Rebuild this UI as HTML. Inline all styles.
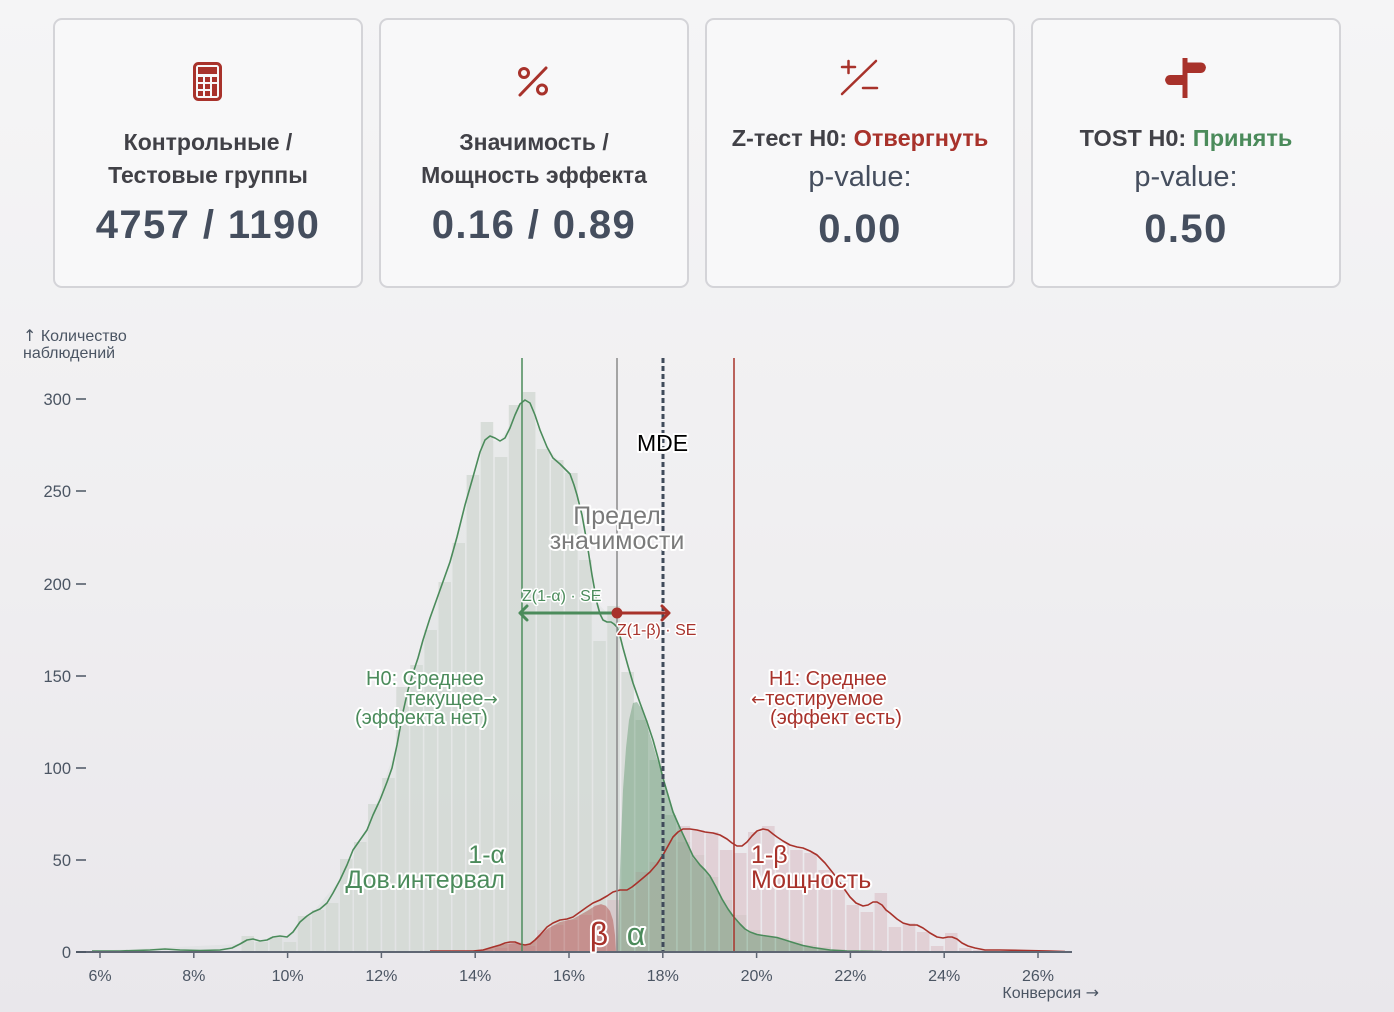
<!DOCTYPE html>
<html><head><meta charset="utf-8"><style>
html,body{margin:0;padding:0;}
body{width:1394px;height:1012px;overflow:hidden;background:linear-gradient(180deg,#f5f5f6 0%,#f0eff1 50%,#e9e7eb 100%);font-family:"Liberation Sans","DejaVu Sans",sans-serif;}
svg{position:absolute;left:0;top:0;}
.h{paint-order:stroke;stroke:#fff;stroke-width:4px;stroke-linejoin:round;}
.ar{font-family:"DejaVu Sans",sans-serif;}
</style></head><body>
<svg width="1394" height="1012" viewBox="0 0 1394 1012" xmlns="http://www.w3.org/2000/svg" font-family="Liberation Sans, DejaVu Sans, sans-serif">
<!-- cards -->
<g fill="#f8f8f9" stroke="#d4d4d8" stroke-width="2">
<rect x="54" y="19" width="308" height="268" rx="8"/>
<rect x="380" y="19" width="308" height="268" rx="8"/>
<rect x="706" y="19" width="308" height="268" rx="8"/>
<rect x="1032" y="19" width="308" height="268" rx="8"/>
</g>
<!-- icons -->
<g fill="#a8322b">
<rect x="194.5" y="63.5" width="26" height="36" rx="4" fill="none" stroke="#a8322b" stroke-width="3"/>
<rect x="198" y="67" width="19" height="7"/>
<rect x="198" y="77" width="5" height="5"/><rect x="205" y="77" width="5" height="5"/><rect x="212" y="77" width="5" height="5"/>
<rect x="198" y="84" width="5" height="5"/><rect x="205" y="84" width="5" height="5"/><rect x="212" y="84" width="5" height="12"/>
<rect x="198" y="91" width="5" height="5"/><rect x="205" y="91" width="5" height="5"/>
</g>
<g fill="none" stroke="#a8322b" stroke-width="3" stroke-linecap="round">
<circle cx="524" cy="73" r="4.5"/><circle cx="542" cy="89.5" r="4.5"/><line x1="520" y1="95" x2="546" y2="68"/>
</g>
<g fill="none" stroke="#a8322b" stroke-width="2.5" stroke-linecap="round">
<line x1="842" y1="67" x2="855" y2="67"/><line x1="848.5" y1="61" x2="848.5" y2="73"/>
<line x1="842" y1="94" x2="876" y2="61"/><line x1="863" y1="88" x2="877" y2="88"/>
</g>
<g fill="#a8322b">
<rect x="1182.5" y="58" width="5" height="40"/>
<path d="M1183 62.5 H1201 Q1205 62.5 1206 67.5 Q1205 73 1201 73 H1183 Z"/>
<path d="M1184 75 H1170 Q1166 75 1165 80 Q1166 85 1170 85 H1184 Z"/>
</g>
<!-- card text -->
<g font-weight="bold" font-size="23" fill="#414147" text-anchor="middle">
<text x="208" y="150">Контрольные /</text>
<text x="208" y="183">Тестовые группы</text>
<text x="534" y="150">Значимость /</text>
<text x="534" y="183">Мощность эффекта</text>
<text x="860" y="146" font-size="23.5">Z-тест H0: <tspan fill="#a8322b">Отвергнуть</tspan></text>
<text x="1186" y="146" font-size="23.5">TOST H0: <tspan fill="#4b8b5b">Принять</tspan></text>
</g>
<g font-size="29" fill="#454e5e" text-anchor="middle">
<text x="860" y="186">p-value:</text>
<text x="1186" y="186">p-value:</text>
</g>
<g font-weight="bold" font-size="40" fill="#454e5e" text-anchor="middle" letter-spacing="1.4">
<text x="208" y="238">4757 / 1190</text>
<text x="534" y="238">0.16 / 0.89</text>
<text x="860" y="242">0.00</text>
<text x="1186" y="242">0.50</text>
</g>

<!-- 1-alpha light fill -->
<path fill="#4b8b5b" fill-opacity="0.05" d="M92,952 L92,951 L240,944 L260,941 L287,937 L313,912 L340,880 L367,830 L397,745 L423,640 L457,537 L485,440 L500,441 L525,400 L547,447 L570,474 L597,603 L617,622 L617,952 Z"/>

<!-- control bars -->
<g fill="#d3d9d5" fill-opacity="0.85">
<rect x="241.5" y="936" width="12.5" height="16"/>
<rect x="255.5" y="942" width="12.5" height="10"/>
<rect x="269.6" y="937" width="12.5" height="15"/>
<rect x="283.7" y="942" width="12.5" height="10"/>
<rect x="297.8" y="916" width="12.5" height="36"/>
<rect x="311.8" y="910" width="12.5" height="42"/>
<rect x="325.9" y="903" width="12.5" height="49"/>
<rect x="340" y="859" width="12.5" height="93"/>
<rect x="354" y="842" width="12.5" height="110"/>
<rect x="368.1" y="804" width="12.5" height="148"/>
<rect x="382.2" y="778" width="12.5" height="174"/>
<rect x="396.3" y="687" width="12.5" height="265"/>
<rect x="410.3" y="665" width="12.5" height="287"/>
<rect x="424.4" y="630" width="12.5" height="322"/>
<rect x="438.5" y="582" width="12.5" height="370"/>
<rect x="452.5" y="543" width="12.5" height="409"/>
<rect x="466.6" y="475" width="12.5" height="477"/>
<rect x="480.7" y="422" width="12.5" height="530"/>
<rect x="494.8" y="457" width="12.5" height="495"/>
<rect x="508.8" y="405" width="12.5" height="547"/>
<rect x="522.9" y="392" width="12.5" height="560"/>
<rect x="537" y="449" width="12.5" height="503"/>
<rect x="551" y="460" width="12.5" height="492"/>
<rect x="565.1" y="473" width="12.5" height="479"/>
<rect x="579.2" y="560" width="12.5" height="392"/>
<rect x="593.3" y="641" width="12.5" height="311"/>
<rect x="607.3" y="606" width="12.5" height="346"/>
<rect x="621.4" y="672" width="12.5" height="280"/>
<rect x="635.5" y="720" width="12.5" height="232"/>
<rect x="649.5" y="760" width="12.5" height="192"/>
<rect x="663.6" y="815" width="12.5" height="137"/>
<rect x="677.7" y="842" width="12.5" height="110"/>
<rect x="691.7" y="855" width="12.5" height="97"/>
<rect x="705.8" y="877" width="12.5" height="75"/>
<rect x="719.9" y="900" width="12.5" height="52"/>
<rect x="734" y="915" width="12.5" height="37"/>
<rect x="748" y="930" width="12.5" height="22"/>
<rect x="762.1" y="937" width="12.5" height="15"/>
<rect x="776.2" y="938" width="12.5" height="14"/>
<rect x="790.2" y="941" width="12.5" height="11"/>
<rect x="804.3" y="945" width="12.5" height="7"/>
<rect x="818.4" y="947" width="12.5" height="5"/>
<rect x="832.4" y="949" width="12.5" height="3"/>
<rect x="846.5" y="950" width="12.5" height="2"/>
<rect x="860.6" y="950" width="12.5" height="2"/>
<rect x="874.6" y="951" width="12.5" height="1"/>
</g>
<!-- test bars -->
<g fill="#d9bcc3" fill-opacity="0.55">
<rect x="480.7" y="950" width="12.5" height="2"/>
<rect x="494.8" y="948" width="12.5" height="4"/>
<rect x="508.8" y="942" width="12.5" height="10"/>
<rect x="522.9" y="946" width="12.5" height="6"/>
<rect x="537" y="930" width="12.5" height="22"/>
<rect x="551" y="925" width="12.5" height="27"/>
<rect x="565.1" y="920" width="12.5" height="32"/>
<rect x="579.2" y="915" width="12.5" height="37"/>
<rect x="593.3" y="905" width="12.5" height="47"/>
<rect x="607.3" y="900" width="12.5" height="52"/>
<rect x="621.4" y="890" width="12.5" height="62"/>
<rect x="635.5" y="872" width="12.5" height="80"/>
<rect x="649.5" y="862" width="12.5" height="90"/>
<rect x="663.6" y="840" width="12.5" height="112"/>
<rect x="677.7" y="826" width="12.5" height="126"/>
<rect x="691.7" y="830" width="12.5" height="122"/>
<rect x="705.8" y="832" width="12.5" height="120"/>
<rect x="719.9" y="850" width="12.5" height="102"/>
<rect x="734" y="853" width="12.5" height="99"/>
<rect x="748" y="832" width="12.5" height="120"/>
<rect x="762.1" y="826" width="12.5" height="126"/>
<rect x="776.2" y="845" width="12.5" height="107"/>
<rect x="790.2" y="850" width="12.5" height="102"/>
<rect x="804.3" y="853" width="12.5" height="99"/>
<rect x="818.4" y="870" width="12.5" height="82"/>
<rect x="832.4" y="890" width="12.5" height="62"/>
<rect x="846.5" y="905" width="12.5" height="47"/>
<rect x="860.6" y="912" width="12.5" height="40"/>
<rect x="874.6" y="893" width="12.5" height="59"/>
<rect x="888.7" y="927" width="12.5" height="25"/>
<rect x="902.8" y="923" width="12.5" height="29"/>
<rect x="916.9" y="932" width="12.5" height="20"/>
<rect x="930.9" y="946" width="12.5" height="6"/>
<rect x="945" y="933" width="12.5" height="19"/>
<rect x="959.1" y="948" width="12.5" height="4"/>
<rect x="973.1" y="950" width="12.5" height="2"/>
<rect x="1001.3" y="951" width="12.5" height="1"/>
</g>

<!-- beta fill -->
<path fill="#a8322b" fill-opacity="0.38" d="M430,952 L430,951 L473,951 L483,950 L493,947 L505,944 L515,943 L525,945 L535,941 L547,929 L560,922 L573,919 L587,911 L595,906 L601,904 L606,906 L610,911 L613,920 L615,935 L616,952 Z"/>
<!-- alpha fill -->
<path fill="#4b8b5b" fill-opacity="0.38" d="M617,952 L618,935 L619,900 L621,840 L623,790 L626,748 L629,720 L633,703 L637,702 L641,708 L646,722 L652,742 L658,762 L663,780 L668,796 L673,812 L680,830 L687,845 L693,858 L700,866 L705,871 L710,877 L716,888 L722,900 L728,910 L733,917 L740,925 L745,930 L750,933 L757,935 L763,936 L770,937 L777,938 L785,941 L793,943 L803,946 L813,948 L830,950 L847,951 L882,951.5 L882,952 Z"/>

<!-- KDE lines -->
<path fill="none" stroke="#4b8b5b" stroke-width="1.6" stroke-linejoin="round" d="M92,951 L120,951 L150,950 L165,949 L180,950 L200,950.5 L220,950 L232,948 L240,944 L247,940 L253,939 L260,941 L267,940 L273,937 L280,936 L287,937 L293,932 L300,922 L307,916 L313,912 L320,909 L327,903 L333,893 L340,880 L347,865 L353,850 L360,840 L367,830 L373,815 L380,800 L387,782 L392,768 L397,745 L403,712 L408,690 L413,673 L418,658 L423,640 L430,618 L440,590 L450,562 L457,537 L465,505 L473,477 L480,452 L485,440 L490,436 L495,438 L500,441 L505,438 L510,428 L515,415 L520,404 L525,400 L530,403 L535,415 L540,430 L547,447 L553,458 L560,464 L566,470 L570,474 L574,485 L577,495 L582,515 L587,543 L592,575 L597,603 L600,614 L603,620 L607,622 L611,622 L614,624 L617,627 L620,636 L623,648 L628,666 L633,683 L640,703 L647,722 L653,740 L658,758 L663,778 L668,795 L673,812 L680,828 L687,843 L693,856 L700,865 L705,870 L710,876 L716,887 L722,899 L728,909 L733,916 L740,924 L745,929 L750,932 L757,934.5 L763,935.5 L770,936.5 L777,937.5 L785,940 L793,942.5 L803,945.5 L813,947.5 L830,950 L847,951 L882,951.5"/>
<path fill="none" stroke="#a8322b" stroke-width="1.6" stroke-linejoin="round" d="M430,951 L450,951 L473,951 L483,950 L493,947 L500,945 L505,943 L510,942 L515,942 L520,944 L525,945 L530,944 L535,940 L540,935 L547,927 L553,923 L560,920 L567,919 L573,917 L580,912 L587,907 L593,903 L600,900 L607,896 L613,892 L620,890 L627,890 L632,887 L637,883 L643,878 L650,872 L657,864 L663,855 L668,846 L673,837 L678,832 L683,829 L690,829 L697,830 L705,832 L713,833 L720,835 L727,839 L732,843 L737,846 L742,846 L747,842 L752,836 L757,831 L763,829 L768,830 L773,834 L777,837 L783,841 L790,845 L797,847 L803,848 L810,851 L817,855 L825,863 L833,873 L840,883 L845,890 L850,897 L856,903 L863,906 L868,905 L873,902 L877,902 L882,905 L886,910 L890,913 L897,919 L903,923 L910,925 L917,925 L923,928 L930,933 L937,937 L943,938 L948,937 L952,937 L957,939 L962,943 L968,946 L975,948 L985,950 L1000,950 L1027,950.5 L1050,951 L1065,951.5"/>

<!-- vertical lines -->
<line x1="522" y1="358" x2="522" y2="952" stroke="#4b8b5b" stroke-width="1.5"/>
<line x1="617" y1="358" x2="617" y2="952" stroke="#8a8a8a" stroke-width="1.5"/>
<line x1="663" y1="358" x2="663" y2="952" stroke="#3f4a5a" stroke-width="3" stroke-dasharray="5 3"/>
<line x1="734" y1="358" x2="734" y2="952" stroke="#a8322b" stroke-width="1.5"/>

<!-- arrows -->
<g fill="none" stroke-width="3" stroke-linecap="round" stroke-linejoin="round">
<path d="M617,613 H520 M527,606 L520,613 L527,620" stroke="#4b8b5b"/>
<path d="M617,613 H669 M662,606 L669,613 L662,620" stroke="#a8322b"/>
</g>
<circle cx="617" cy="613" r="5.5" fill="#a8322b"/>

<!-- axes -->
<line x1="76" y1="952" x2="1072" y2="952" stroke="#5f6673" stroke-width="2"/>
<g stroke="#5f6673" stroke-width="1.5">
<line x1="100" y1="952" x2="100" y2="958"/><line x1="193.8" y1="952" x2="193.8" y2="958"/><line x1="287.6" y1="952" x2="287.6" y2="958"/><line x1="381.4" y1="952" x2="381.4" y2="958"/><line x1="475.2" y1="952" x2="475.2" y2="958"/><line x1="569" y1="952" x2="569" y2="958"/><line x1="662.8" y1="952" x2="662.8" y2="958"/><line x1="756.6" y1="952" x2="756.6" y2="958"/><line x1="850.4" y1="952" x2="850.4" y2="958"/><line x1="944.2" y1="952" x2="944.2" y2="958"/><line x1="1038" y1="952" x2="1038" y2="958"/>
</g>
<g stroke="#4b5563" stroke-width="1.5">
<line x1="76" y1="399" x2="86" y2="399"/><line x1="76" y1="491" x2="86" y2="491"/><line x1="76" y1="584" x2="86" y2="584"/><line x1="76" y1="676" x2="86" y2="676"/><line x1="76" y1="768" x2="86" y2="768"/><line x1="76" y1="860" x2="86" y2="860"/><line x1="76" y1="952" x2="86" y2="952"/>
</g>
<g font-size="16.5" fill="#4b5563" text-anchor="end">
<text x="71" y="405">300</text><text x="71" y="497">250</text><text x="71" y="590">200</text><text x="71" y="682">150</text><text x="71" y="774">100</text><text x="71" y="866">50</text><text x="71" y="958">0</text>
</g>
<g font-size="16" fill="#4b5563" text-anchor="middle">
<text x="100" y="981">6%</text><text x="193.8" y="981">8%</text><text x="287.6" y="981">10%</text><text x="381.4" y="981">12%</text><text x="475.2" y="981">14%</text><text x="569" y="981">16%</text><text x="662.8" y="981">18%</text><text x="756.6" y="981">20%</text><text x="850.4" y="981">22%</text><text x="944.2" y="981">24%</text><text x="1038" y="981">26%</text>
</g>
<text x="1099" y="998" font-size="16" fill="#4b5563" text-anchor="end">Конверсия <tspan class="ar">→</tspan></text>
<text x="23" y="341" font-size="16" fill="#4b5563"><tspan class="ar">↑</tspan> Количество</text>
<text x="23" y="358" font-size="16" fill="#4b5563">наблюдений</text>

<!-- labels -->
<text class="h" x="637" y="451" font-size="23" fill="#000">MDE</text>
<g class="h" font-size="25" fill="#7b7b7b" text-anchor="middle">
<text x="617" y="524">Предел</text>
<text x="617" y="549">значимости</text>
</g>
<text class="h" x="522" y="601" font-size="16" fill="#4b8b5b" style="stroke-width:3px">Z(1-α) · SE</text>
<text class="h" x="617" y="635" font-size="16" fill="#a8322b" style="stroke-width:3px">Z(1-β) · SE</text>
<g class="h" font-size="20" fill="#4b8b5b">
<text x="366" y="685">H0: Среднее</text>
<text x="406" y="705">текущее<tspan class="ar" font-size="17">→</tspan></text>
<text x="355" y="724">(эффекта нет)</text>
</g>
<g class="h" font-size="20" fill="#a8322b">
<text x="769" y="685">H1: Среднее</text>
<text x="751" y="705"><tspan class="ar" font-size="17">←</tspan>тестируемое</text>
<text x="770" y="724">(эффект есть)</text>
</g>
<g class="h" font-size="25" fill="#4b8b5b" text-anchor="end">
<text x="505" y="863">1-α</text>
<text x="505" y="888">Дов.интервал</text>
</g>
<g class="h" font-size="25" fill="#a8322b">
<text x="751" y="863">1-β</text>
<text x="751" y="888">Мощность</text>
</g>
<text class="h" x="599" y="945" font-size="32" fill="#a8322b" text-anchor="middle">β</text>
<text class="h" x="636" y="945" font-size="32" fill="#4b8b5b" text-anchor="middle">α</text>
</svg>
</body></html>
